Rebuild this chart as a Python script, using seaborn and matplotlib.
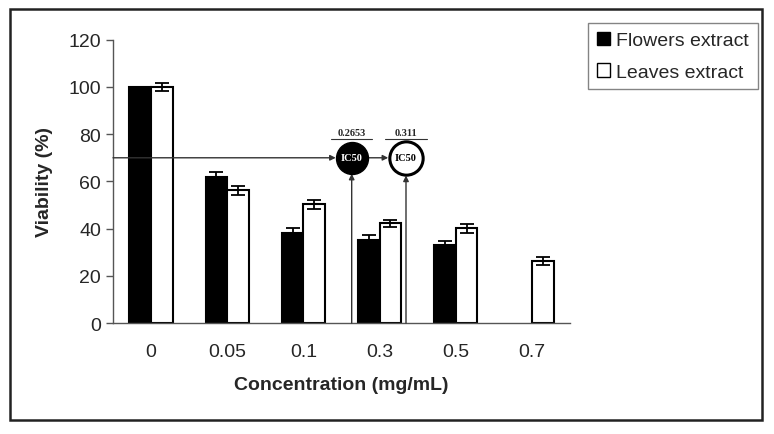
import numpy as np
import pandas as pd
import matplotlib
matplotlib.use("Agg")
import matplotlib.pyplot as plt
from matplotlib.patches import Patch, Rectangle
import seaborn as sns

concentrations = ["0", "0.05", "0.1", "0.3", "0.5", "0.7"]
flowers = [100, 62, 38.3, 35.3, 33.2, np.nan]
flowers_err = [0, 1.9, 1.8, 1.8, 1.4, np.nan]
leaves = [100, 56.2, 50.4, 42.2, 40.2, 26.3]
leaves_err = [1.6, 1.9, 1.9, 1.6, 1.9, 1.8]
series = ["Flowers extract", "Leaves extract"]

ic50_labels = ["0.2653", "0.311"]
ic50_pos = [2.634, 3.347]   # position on the category axis
ic50_level = 70

rows = []
for c, f, l in zip(concentrations, flowers, leaves):
    rows.append({"conc": c, "extract": series[0], "viability": f})
    rows.append({"conc": c, "extract": series[1], "viability": l})
df = pd.DataFrame(rows).dropna()

sns.set_style("white")
plt.rcParams["font.family"] = ["Liberation Sans", "DejaVu Sans"]

fig = plt.figure(figsize=(7.74, 4.35), dpi=100)
ax = fig.add_axes([0.146, 0.255, 0.5904, 0.6514])

sns.barplot(data=df, x="conc", y="viability", hue="extract",
            order=concentrations, hue_order=series,
            palette=["black", "white"], edgecolor="black", linewidth=1.5,
            width=0.57, errorbar=None, legend=False, ax=ax)

# error bars on top of the drawn bars
errs = {}
for i, c in enumerate(concentrations):
    errs[(i, 0)] = flowers_err[i]
    errs[(i, 1)] = leaves_err[i]
for p in ax.patches:
    if p.get_height() <= 0:
        continue
    xc = p.get_x() + p.get_width() / 2
    idx = int(round(xc))
    k = 0 if p.get_facecolor()[0] < 0.5 else 1
    e = errs[(idx, k)]
    if e and not np.isnan(e):
        ax.errorbar(xc, p.get_height(), yerr=e, fmt="none", ecolor="black",
                    elinewidth=1.3, capsize=5, capthick=1.3, zorder=4)

ax.set_xlim(-0.5, 5.5)
ax.set_ylim(0, 120)
ax.set_yticks(np.arange(0, 121, 20))
ax.set_xticks(np.arange(-0.5, 6, 1), minor=True)
ax.tick_params(axis="x", which="major", length=0, pad=14, labelsize=14)
ax.tick_params(axis="x", which="minor", length=5, width=1, color="#555555", direction="out")
ax.tick_params(axis="y", length=5, width=1, color="#555555", direction="out", left=True, labelsize=14)
for s in ["top", "right"]:
    ax.spines[s].set_visible(False)
for s in ["left", "bottom"]:
    ax.spines[s].set_color("#555555")
    ax.spines[s].set_linewidth(1)
ax.set_xlabel("Concentration (mg/mL)", fontsize=14, fontweight="bold", labelpad=12)
ax.set_ylabel("Viability (%)", fontsize=14, fontweight="bold", labelpad=11)

# IC50 markers
r_black = 11.5
r_white = 12.8
line_kw = dict(color="#333333", lw=1)
ax.annotate("", xy=(ic50_pos[0], ic50_level), xytext=(-0.5, ic50_level),
            arrowprops=dict(arrowstyle="-|>", mutation_scale=8, shrinkA=0, shrinkB=r_black, **line_kw))
ax.annotate("", xy=(ic50_pos[1], ic50_level), xytext=(ic50_pos[0], ic50_level),
            arrowprops=dict(arrowstyle="-|>", mutation_scale=8, shrinkA=r_black, shrinkB=r_white, **line_kw))
ax.annotate("", xy=(ic50_pos[0], ic50_level), xytext=(ic50_pos[0], 0),
            arrowprops=dict(arrowstyle="-|>", mutation_scale=8, shrinkA=0, shrinkB=r_black, **line_kw))
ax.annotate("", xy=(ic50_pos[1], ic50_level), xytext=(ic50_pos[1], 0),
            arrowprops=dict(arrowstyle="-|>", mutation_scale=8, shrinkA=0, shrinkB=r_white, **line_kw))

ax.plot(ic50_pos[0], ic50_level, "o", ms=23, mfc="black", mec="black", zorder=5, clip_on=False)
ax.plot(ic50_pos[1], ic50_level, "o", ms=24, mfc="white", mec="black", mew=2.2, zorder=5, clip_on=False)
ax.text(ic50_pos[0], ic50_level, "IC50", color="white", fontsize=7.5, fontweight="bold",
        family="Liberation Serif", ha="center", va="center", zorder=6)
ax.text(ic50_pos[1], ic50_level, "IC50", color="black", fontsize=7.5, fontweight="bold",
        family="Liberation Serif", ha="center", va="center", zorder=6)
for xp, lab in zip(ic50_pos, ic50_labels):
    ax.annotate(lab, xy=(xp, ic50_level), xytext=(0, 18.5), textcoords="offset points",
                ha="center", va="center", fontsize=7.5, fontweight="bold", family="Liberation Serif")
    ax.plot([xp - 0.27, xp + 0.27], [ic50_level + 7.8, ic50_level + 7.8], color="#333333", lw=0.8,
            clip_on=False)

handles = [Patch(facecolor="black", edgecolor="black"),
           Patch(facecolor="white", edgecolor="black")]
leg = fig.legend(handles, series, loc="upper left", bbox_to_anchor=(588 / 774, 1 - 24 / 435),
                 fontsize=14, frameon=True, fancybox=False, edgecolor="#666666",
                 handlelength=0.7, handleheight=0.7, handletextpad=0.3, labelspacing=0.7,
                 borderpad=0.45, borderaxespad=0)
leg.get_frame().set_linewidth(1)

fig.patches.append(Rectangle((10 / 774, 1 - 421 / 435), 752 / 774, 411 / 435,
                             transform=fig.transFigure, fill=False, edgecolor="#222222", lw=1.8))

fig.savefig("out.png", dpi=100, facecolor="white")
